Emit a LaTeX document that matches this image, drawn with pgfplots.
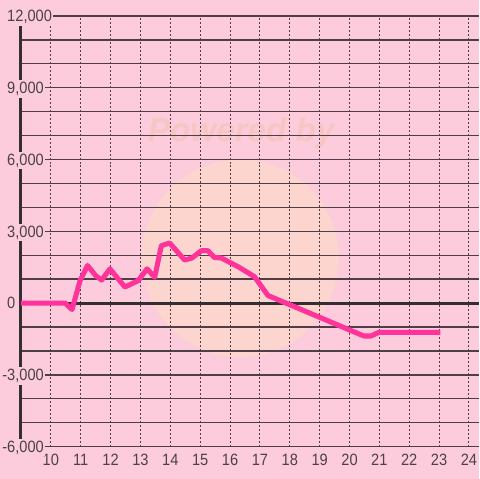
\documentclass[border=0pt]{standalone}
\usepackage{fontspec}
\setmainfont{Liberation Sans}
\usepackage{graphicx}
\usepackage{pgfplots}
\pgfplotsset{compat=1.18}
\definecolor{bg}{HTML}{FCCCDC}
\definecolor{gridc}{HTML}{4F3E48}
\definecolor{axc}{HTML}{332F31}
\definecolor{linec}{HTML}{FF3399}
\definecolor{labc}{HTML}{4D4048}
\definecolor{wmc}{HTML}{FBD5CE}
\definecolor{wmt}{HTML}{F7C6C4}
\newcommand\lab[1]{\mbox{\scalebox{1}[1.12]{#1}}}
\begin{document}
\begin{tikzpicture}
\pgfplotsset{set layers=standard}
\begin{pgfonlayer}{axis background}
\fill[bg] (0,0) rectangle (360pt,360pt);
\fill[wmc] (180.75pt,165.75pt) circle (74.25pt);
\node[text=wmt,font=\fontsize{25}{27}\selectfont\bfseries\itshape] at (181.5pt,260.25pt) {Powered by};
\end{pgfonlayer}
\begin{axis}[
  at={(15.75pt,24pt)}, anchor=south west,
  scale only axis, width=344.25pt, height=324pt,
  xmin=9.0, xmax=24.32, ymin=-6000, ymax=12000,
  axis line style={draw=none},
  major tick length=0pt, minor tick length=0pt,
  xtick pos=bottom, ytick pos=left,
  scaled y ticks=false,
  /pgf/number format/assume math mode=true,
  xtick={10,11,...,24},
  xticklabels={\lab{10},\lab{11},\lab{12},\lab{13},\lab{14},\lab{15},\lab{16},\lab{17},\lab{18},\lab{19},\lab{20},\lab{21},\lab{22},\lab{23},\lab{24}},
  ytick={-6000,-3000,0,3000,6000,9000,12000},
  yticklabels={{\lab{\llap{-}6,000}},{\lab{\llap{-}3,000}},{\lab{0}},{\lab{3,000}},{\lab{6,000}},{\lab{9,000}},{\lab{12,000}}},
  minor ytick={-5000,-4000,-2000,-1000,1000,2000,4000,5000,7000,8000,10000,11000},
  xmajorgrids, ymajorgrids, yminorgrids,
  major x grid style={gridc, line width=0.75pt, dash pattern=on 1.5pt off 1.5pt},
  major y grid style={gridc, line width=1pt},
  minor y grid style={gridc, line width=1pt},
  tick label style={text=labc, font=\fontsize{11}{13}\selectfont},
  xticklabel style={anchor=base, yshift=-14.25pt, inner sep=0pt},
  yticklabel style={anchor=base west, xshift=-11.5pt, yshift=-4.3pt, inner xsep=1pt, inner ysep=1.5pt, fill=bg},
  clip=false,
]
\begin{pgfonlayer}{axis lines}
\draw[axc, line width=2.2pt] (axis cs:9.0,0) -- (axis cs:24.32,0);
\draw[axc, line width=2.2pt] (axis cs:9.0,-6000) -- (axis cs:9.0,12000);
\end{pgfonlayer}
\addplot[linec, line width=3.8pt, line join=round] coordinates {
(9.0,0) (10.48,0) (10.71,-270) (10.98,940) (11.23,1570) (11.5,1150) (11.7,960)
(11.98,1430) (12.48,670) (12.93,940) (13.22,1430) (13.48,1080) (13.7,2400)
(13.98,2510) (14.48,1800) (14.72,1880) (15.04,2190) (15.26,2190) (15.48,1900)
(15.7,1890) (16.3,1500) (16.82,1100) (17.27,317) (20.48,-1375) (20.72,-1375)
(20.98,-1225) (23.04,-1225)
};
\end{axis}
\end{tikzpicture}
\end{document}
